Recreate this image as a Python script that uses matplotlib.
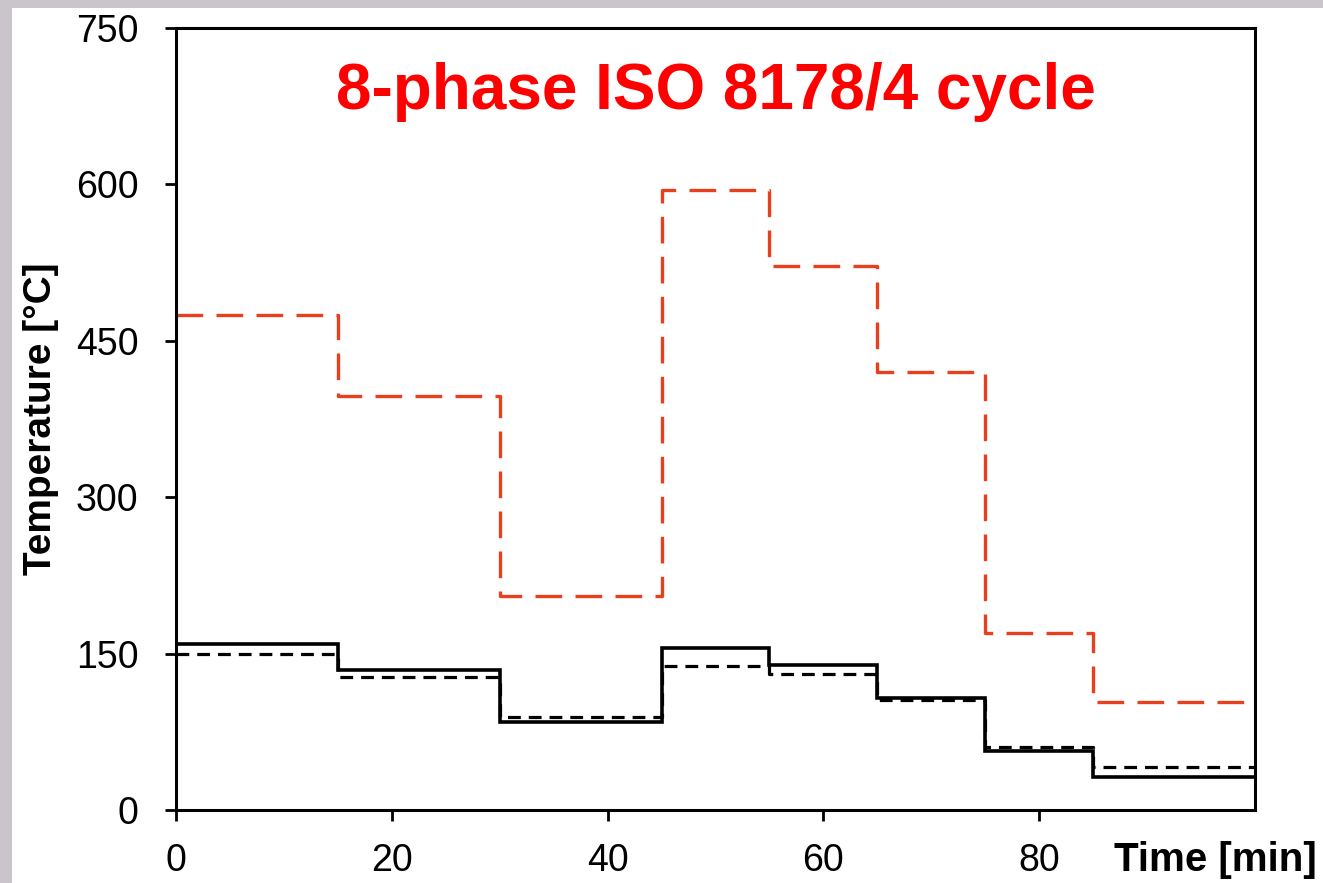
import matplotlib.pyplot as plt
from matplotlib.patches import Rectangle

# phase boundaries [min]
phase_edges = [0, 15, 30, 45, 55, 65, 75, 85, 100]

# temperature per phase [°C]
red_dashed = [475, 397, 205, 595, 522, 420, 170, 104]
black_solid = [159, 134, 84, 155, 139, 107, 57, 32]
black_dashed = [150, 128, 89, 138, 130, 105, 60, 41]

x_ticks = [0, 20, 40, 60, 80]
y_ticks = [0, 150, 300, 450, 600, 750]

plt.rcParams["font.family"] = ["Liberation Sans", "DejaVu Sans"]

fig = plt.figure(figsize=(13.23, 8.83), dpi=100)
fig.patch.set_facecolor("white")

# grey border strips of the scanned page
fig.add_artist(Rectangle((0, 0), 0.009, 1, transform=fig.transFigure,
                         facecolor="#c9c5cb", edgecolor="none", zorder=-1))
fig.add_artist(Rectangle((0, 0.991), 1, 0.009, transform=fig.transFigure,
                         facecolor="#c9c5cb", edgecolor="none", zorder=-1))

ax = fig.add_axes([0.133, 0.0827, 0.8156, 0.8856])


def steps(vals):
    return vals + [vals[-1]]


ax.step(phase_edges, steps(red_dashed), where="post", color="#e8401c",
        lw=2.4, dashes=(8, 4), solid_joinstyle="miter")
ax.step(phase_edges, steps(black_solid), where="post", color="black",
        lw=2.6, solid_joinstyle="miter")
ax.step(phase_edges, steps(black_dashed), where="post", color="black",
        lw=2.3, dashes=(4, 2.5))

ax.set_xlim(0, 100)
ax.set_ylim(0, 750)
ax.set_xticks(x_ticks)
ax.set_yticks(y_ticks)
ax.tick_params(direction="out", length=8, width=2, labelsize=27)
ax.tick_params(axis="y", pad=19)
ax.tick_params(axis="x", pad=16)

for s in ax.spines.values():
    s.set_linewidth(2.2)

ax.set_ylabel("Temperature [°C]", fontsize=28, fontweight="bold", labelpad=12)
fig.text(0.995, 0.026, "Time [min]", ha="right", va="center",
         fontsize=29, fontweight="bold")

ax.text(0.5, 0.918, "8-phase ISO 8178/4 cycle", transform=ax.transAxes,
        ha="center", va="center", color="#ff0000", fontsize=46,
        fontweight="bold")

fig.savefig("out.png", dpi=100)
